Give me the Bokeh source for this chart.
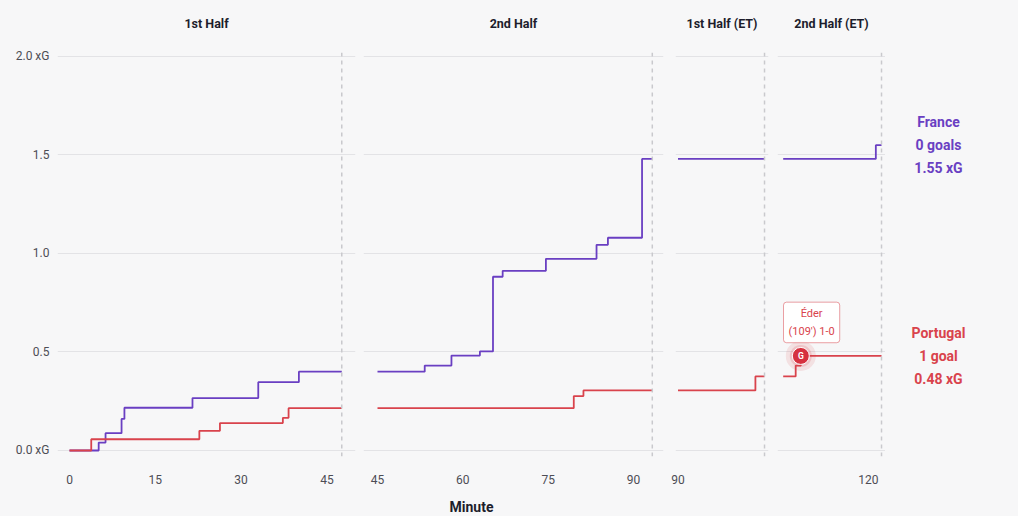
from bokeh.plotting import figure
from bokeh.layouts import row, column
from bokeh.models import (Range1d, FixedTicker, Span, Label, Grid, ColumnDataSource)
from bokeh.core.properties import value
from bokeh.embed import file_html
from bokeh.resources import INLINE

# ---------------- data ----------------
period_titles = ["1st Half", "2nd Half", "1st Half (ET)", "2nd Half (ET)"]
period_ends = [47.6, 93.3, 105.2, 122.3]
period_ticks = [[0, 15, 30, 45], [45, 60, 75, 90], [90], [120]]

france_min = [
    [0, 5.1, 6.3, 9.1, 9.6, 21.5, 33.0, 40.1, 47.6],
    [45, 53.3, 58.0, 63.0, 65.3, 67.0, 74.6, 83.5, 85.5, 91.5, 93.3],
    [90, 105.2],
    [105, 121.3, 122.3],
]
france_xg = [
    [0, 0.04, 0.088, 0.16, 0.217, 0.266, 0.347, 0.40, 0.40],
    [0.40, 0.431, 0.482, 0.503, 0.882, 0.912, 0.973, 1.044, 1.08, 1.48, 1.48],
    [1.48, 1.48],
    [1.48, 1.55, 1.55],
]
portugal_min = [
    [0, 3.8, 22.7, 26.3, 37.3, 38.3, 47.6],
    [45, 79.5, 81.2, 93.3],
    [90, 103.6, 105.2],
    [105, 107.2, 108.1, 122.3],
]
portugal_xg = [
    [0, 0.057, 0.10, 0.139, 0.166, 0.215, 0.215],
    [0.215, 0.276, 0.305, 0.305],
    [0.305, 0.376, 0.376],
    [0.376, 0.431, 0.48, 0.48],
]

teams = ["France", "Portugal"]
team_goals = [0, 1]
team_xg = [1.55, 0.48]
team_colors = ["#6a3fc2", "#d9434c"]

goal_minute = 108.1
goal_xg = 0.48
goal_text = "Éder\n(109') 1-0"

y_ticks = [0, 0.5, 1.0, 1.5, 2.0]
y_tick_labels = {0: "0.0 xG", 0.5: "0.5", 1: "1.0", 1.5: "1.5", 2: "2.0 xG"}
x_title = "Minute"

# ---------------- layout / style ----------------
BG = "#f7f7f8"
GRID = "#e3e3e6"
TITLE_C = "#1d1d2c"
TICK_C = "#4d4d55"
FONT = "Roboto"

x_ranges = [(-2.1, 50.0), (42.54, 95.27), (89.56, 105.9), (104.0, 123.0)]
frame_w = [298, 300, 93, 108]
borders = [(57, 4), (4, 6), (6, 4), (5, 0)]
TITLE_H = 40
TOP = 12
FRAME_H = 404
BOTTOM = 40
H = TOP + FRAME_H + BOTTOM
y_range = Range1d(-0.0305, 2.0203)


def strip_grids(p):
    p.center = [r for r in p.center if not isinstance(r, Grid)]


def plain(p):
    p.background_fill_color = BG
    p.border_fill_color = BG
    p.outline_line_color = None
    strip_grids(p)


figs = []
for i in range(4):
    bl, br = borders[i]
    p = figure(width=bl + frame_w[i] + br, height=H,
               x_range=Range1d(*x_ranges[i]), y_range=y_range,
               output_backend="svg", toolbar_location=None,
               y_axis_location="left" if i == 0 else None,
               min_border_left=bl, min_border_right=br,
               min_border_top=TOP, min_border_bottom=BOTTOM)
    plain(p)
    p.add_layout(Grid(dimension=1, ticker=FixedTicker(ticks=y_ticks),
                      grid_line_color=GRID, grid_line_width=1))

    p.xaxis.ticker = FixedTicker(ticks=period_ticks[i])
    p.xaxis.axis_line_color = None
    p.xaxis.major_tick_line_color = None
    p.xaxis.minor_tick_line_color = None
    p.xaxis.major_label_standoff = 12
    p.xaxis.major_label_text_font = FONT
    p.xaxis.major_label_text_font_size = "12px"
    p.xaxis.major_label_text_color = TICK_C

    if i == 0:
        p.yaxis.ticker = FixedTicker(ticks=y_ticks)
        p.yaxis.major_label_overrides = y_tick_labels
        p.yaxis.axis_line_color = None
        p.yaxis.major_tick_line_color = None
        p.yaxis.minor_tick_line_color = None
        p.yaxis.major_label_standoff = 2
        p.yaxis.major_label_text_font = FONT
        p.yaxis.major_label_text_font_size = "12px"
        p.yaxis.major_label_text_color = TICK_C

    p.add_layout(Span(location=period_ends[i], dimension="height",
                      line_color="#c9c9cd", line_dash="4 4", line_width=1.5))

    for mins, xgs, col in ((france_min[i], france_xg[i], team_colors[0]),
                           (portugal_min[i], portugal_xg[i], team_colors[1])):
        p.step(x=mins, y=xgs, mode="after", line_color=col, line_width=1.8)
    figs.append(p)

# goal marker + annotation in ET second half
p4 = figs[3]
p4.scatter(x=[goal_minute], y=[goal_xg], size=30, fill_color=team_colors[1],
           fill_alpha=0.12, line_color=None)
p4.scatter(x=[goal_minute], y=[goal_xg], size=22, fill_color=team_colors[1],
           fill_alpha=0.18, line_color=None)
p4.scatter(x=[goal_minute], y=[goal_xg], size=17, fill_color="#d6313f",
           line_color="white", line_width=1)
p4.text(x=[goal_minute], y=[goal_xg], text=["G"], text_color="white",
        text_font=value(FONT), text_font_size="8.5px", text_font_style="bold",
        text_align="center", text_baseline="middle")
p4.add_layout(Label(x=goal_minute + 1.9, y=goal_xg + 0.17, text=goal_text,
                    text_align="center", text_baseline="middle",
                    text_font=FONT, text_font_size="11px",
                    text_color=team_colors[1], text_line_height=1.35,
                    background_fill_color="white", background_fill_alpha=0.9,
                    border_line_color=team_colors[1], border_line_alpha=0.5,
                    border_radius=3, padding=5))

# right-hand team labels
p5 = figure(width=106, height=H, x_range=Range1d(0, 1), y_range=y_range,
            output_backend="svg", toolbar_location=None,
            x_axis_location=None, y_axis_location=None,
            min_border_left=0, min_border_right=0,
            min_border_top=TOP, min_border_bottom=BOTTOM)
plain(p5)
labels = []
for t, g, xg in zip(teams, team_goals, team_xg):
    labels.append(f"{t}\n{g} goal{'s' if g != 1 else ''}\n{xg:.2f} xG")
src = ColumnDataSource(dict(x=[0.5, 0.5], y=team_xg, text=labels, color=team_colors))
p5.text(x="x", y="y", text="text", text_color="color", source=src,
        text_font=value(FONT), text_font_size="14px", text_font_style="bold",
        text_align="center", text_baseline="middle", text_line_height=1.45)
figs.append(p5)

panels_right = sum(b[0] + w + b[1] for b, w in zip(borders, frame_w))

# panel titles strip above the panels (centred over each frame)
frame_centres = []
left = 0
for (bl, br), w in zip(borders, frame_w):
    frame_centres.append(left + bl + w / 2)
    left += bl + w + br
pt = figure(width=panels_right, height=TITLE_H, x_range=Range1d(0, panels_right),
            y_range=Range1d(0, TITLE_H), output_backend="svg", toolbar_location=None,
            x_axis_location=None, y_axis_location=None,
            min_border_left=0, min_border_right=0,
            min_border_top=0, min_border_bottom=0)
plain(pt)
pt.text(x=frame_centres, y=[TITLE_H - 23] * 4, text=period_titles,
        text_color=TITLE_C, text_font=value(FONT), text_font_size="12.5px",
        text_font_style="bold", text_align="center", text_baseline="middle")

# x axis title strip below the panels
pm = figure(width=panels_right, height=20, x_range=Range1d(0, panels_right),
            y_range=Range1d(0, 1), output_backend="svg", toolbar_location=None,
            x_axis_location=None, y_axis_location=None,
            min_border_left=0, min_border_right=0,
            min_border_top=0, min_border_bottom=0)
plain(pm)
pm.text(x=[(borders[0][0] + panels_right) / 2], y=[0.5], text=[x_title],
        text_color=TITLE_C, text_font=value(FONT), text_font_size="14px",
        text_font_style="bold", text_align="center", text_baseline="middle")

layout = column(pt, row(*figs), pm)
html = file_html(layout, INLINE)
css = f"<style>html, body {{ background: {BG} !important; }}</style>"
html = html.replace("</head>", css + "</head>", 1)
open("out.html", "w").write(html)
